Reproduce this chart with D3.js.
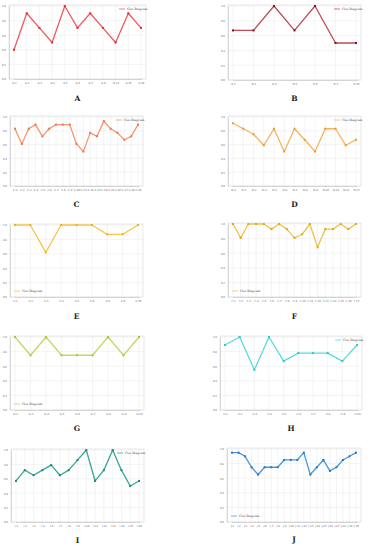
<!DOCTYPE html>
<html>
<head>
<meta charset="UTF-8">
<script src="https://d3js.org/d3.v7.min.js"></script>
<style>
  body { margin: 0; background: #fff; }
  .tick text { font-family: "DejaVu Sans", sans-serif; }
  .panel-label { font-family: "DejaVu Serif", serif; font-weight: bold; font-size: 7.5px; fill: #222; }
  .legend text { font-family: "DejaVu Serif", serif; font-size: 3px; fill: #444; }
</style>
</head>
<body>
<div id="chart"></div>
<script>
// data, one set per panel
var labelsA = ["A-1","A-2","A-3","A-4","A-5","A-6","A-7","A-8","A-13","A-15","A-16"];
var valuesA = [0.4,0.9,0.7,0.5,1.0,0.7,0.9,0.7,0.5,0.9,0.7];

var labelsB = ["B-1","B-2","B-4","B-5","B-6","B-7","B-10"];
var valuesB = [0.67,0.67,1.0,0.67,1.0,0.5,0.5];

var labelsC = ["C-1","C-2","C-3","C-4","C-5","C-6","C-7","C-8","C-9","C-10","C-11","C-12","C-13","C-14","C-15","C-16","C-17","C-18","C-19"];
var valuesC = [0.83,0.61,0.83,0.89,0.72,0.83,0.89,0.89,0.89,0.61,0.5,0.77,0.72,0.94,0.83,0.77,0.67,0.72,0.89];

var labelsD = ["D-1","D-2","D-3","D-4","D-5","D-6","D-7","D-8","D-9","D-10","D-11","D-12","D-13"];
var valuesD = [0.91,0.83,0.75,0.59,0.83,0.5,0.83,0.67,0.5,0.83,0.83,0.59,0.67];

var labelsE = ["E-1","E-2","E-3","E-4","E-5","E-6","E-8","E-9","E-10"];
var valuesE = [1.0,1.0,0.62,1.0,1.0,1.0,0.87,0.87,1.0];

var labelsF = ["F-1","F-2","F-3","F-4","F-5","F-6","F-7","F-8","F-9","F-10","F-11","F-12","F-13","F-14","F-15","F-16","F-17"];
var valuesF = [1.0,0.81,1.0,1.0,1.0,0.93,1.0,0.93,0.81,0.86,1.0,0.68,0.93,0.93,1.0,0.93,1.0];

var labelsG = ["G-1","G-3","G-4","G-5","G-6","G-7","G-8","G-9","G-10"];
var valuesG = [1.0,0.75,1.0,0.75,0.75,0.75,1.0,0.75,1.0];

var labelsH = ["H-1","H-2","H-3","H-4","H-5","H-6","H-7","H-8","H-9","H-10"];
var valuesH = [0.89,1.0,0.55,1.0,0.67,0.78,0.78,0.78,0.67,0.89];

var labelsI = ["I-1","I-2","I-3","I-4","I-5","I-7","I-8","I-9","I-10","I-11","I-12","I-13","I-14","I-15","I-16"];
var valuesI = [0.57,0.72,0.65,0.72,0.79,0.65,0.72,0.86,1.0,0.57,0.72,1.0,0.72,0.5,0.57];

var labelsJ = ["J-1","J-2","J-3","J-4","J-5","J-6","J-7","J-8","J-9","J-10","J-11","J-12","J-13","J-14","J-15","J-16","J-17","J-18","J-19","J-20"];
var valuesJ = [0.95,0.95,0.9,0.75,0.65,0.75,0.75,0.75,0.85,0.85,0.85,0.95,0.65,0.75,0.85,0.7,0.75,0.85,0.9,0.95];

var yTicks = [0, 0.2, 0.4, 0.6, 0.8, 1.0];
var legendText = "Clet Diagram";

// layout of each panel (plot box + caption position)
var panels = [
  {name:"A", labels:labelsA, values:valuesA, color:"#ee5a60", dot:"#d92e3a", x0:9,   x1:146, y0:5,   y1:79,  cy:101, leg:"tr"},
  {name:"B", labels:labelsB, values:valuesB, color:"#c04a58", dot:"#7a1424", x0:228, x1:361, y0:5,   y1:80,  cy:101, leg:"tr"},
  {name:"C", labels:labelsC, values:valuesC, color:"#f59872", dot:"#ef7a4d", x0:10,  x1:143, y0:116, y1:186, cy:207, leg:"tr"},
  {name:"D", labels:labelsD, values:valuesD, color:"#f7b35e", dot:"#f09a35", x0:228, x1:361, y0:116, y1:186, cy:207, leg:"tr"},
  {name:"E", labels:labelsE, values:valuesE, color:"#f7c54e", dot:"#f0b020", x0:10,  x1:143, y0:224, y1:297, cy:319, leg:"bl"},
  {name:"F", labels:labelsF, values:valuesF, color:"#ecc44c", dot:"#dcaa20", x0:228, x1:361, y0:223, y1:297, cy:319, leg:"bl"},
  {name:"G", labels:labelsG, values:valuesG, color:"#c0da66", dot:"#a8c640", x0:10,  x1:144, y0:336, y1:410, cy:431, leg:"bl"},
  {name:"H", labels:labelsH, values:valuesH, color:"#5cdada", dot:"#30c8c8", x0:220, x1:362, y0:336, y1:410, cy:431, leg:"tr"},
  {name:"I", labels:labelsI, values:valuesI, color:"#35a597", dot:"#1e8a7c", x0:11,  x1:144, y0:449, y1:522, cy:543, leg:"tr"},
  {name:"J", labels:labelsJ, values:valuesJ, color:"#4a98dc", dot:"#2478c4", x0:227, x1:361, y0:448, y1:522, cy:542, leg:"bl"}
];

var svg = d3.select("#chart").append("svg")
  .attr("width", 369)
  .attr("height", 550);

panels.forEach(function(p) {
  var g = svg.append("g");
  var data = p.labels.map(function(l, i) { return {label: l, value: p.values[i]}; });

  var x = d3.scalePoint()
    .domain(p.labels)
    .range([p.x0 + 5, p.x1 - 5]);
  var y = d3.scaleLinear()
    .domain([0, 1])
    .range([p.y1, p.y0 + 1]);

  // grid
  g.append("g").selectAll("line.gx")
    .data(p.labels).enter().append("line")
      .attr("x1", function(d) { return x(d); })
      .attr("x2", function(d) { return x(d); })
      .attr("y1", p.y0).attr("y2", p.y1)
      .attr("stroke", "#e2e2e2").attr("stroke-width", 0.4);
  g.append("g").selectAll("line.gy")
    .data(yTicks).enter().append("line")
      .attr("x1", p.x0).attr("x2", p.x1)
      .attr("y1", function(d) { return y(d); })
      .attr("y2", function(d) { return y(d); })
      .attr("stroke", "#e2e2e2").attr("stroke-width", 0.4);

  // frame
  g.append("rect")
    .attr("x", p.x0).attr("y", p.y0)
    .attr("width", p.x1 - p.x0).attr("height", p.y1 - p.y0)
    .attr("fill", "none").attr("stroke", "#d8d8d8").attr("stroke-width", 0.6);

  // axes
  var ax = g.append("g")
    .attr("transform", "translate(0," + p.y1 + ")")
    .call(d3.axisBottom(x).tickSize(1).tickPadding(2));
  ax.select(".domain").attr("stroke", "#bbb").attr("stroke-width", 0.5);
  ax.selectAll(".tick line").attr("stroke", "#bbb").attr("stroke-width", 0.4);
  ax.selectAll("text").attr("font-size", 2.6).attr("fill", "#666");

  var ay = g.append("g")
    .attr("transform", "translate(" + p.x0 + ",0)")
    .call(d3.axisLeft(y).tickValues(yTicks).tickFormat(d3.format(".1f")).tickSize(0).tickPadding(3));
  ay.select(".domain").attr("stroke", "#bbb").attr("stroke-width", 0.5);
  ay.selectAll("text").attr("font-size", 2.6).attr("fill", "#666");

  // line + markers
  g.append("path")
    .datum(data)
    .attr("fill", "none")
    .attr("stroke", p.color)
    .attr("stroke-width", 1.3)
    .attr("stroke-linejoin", "round")
    .attr("d", d3.line()
      .x(function(d) { return x(d.label); })
      .y(function(d) { return y(d.value); }));

  g.selectAll("rect.pt")
    .data(data).enter().append("rect")
      .attr("x", function(d) { return x(d.label) - 1; })
      .attr("y", function(d) { return y(d.value) - 1; })
      .attr("width", 2).attr("height", 2)
      .attr("fill", p.dot);

  // legend
  var lx, ly;
  if (p.leg === "tr") { lx = p.x1 - 27; ly = p.y0 + 4; }
  else { lx = p.x0 + 4; ly = p.y1 - 6; }
  var lg = g.append("g").attr("class", "legend");
  lg.append("line")
    .attr("x1", lx).attr("x2", lx + 6)
    .attr("y1", ly).attr("y2", ly)
    .attr("stroke", p.color).attr("stroke-width", 0.8);
  lg.append("text")
    .attr("x", lx + 8).attr("y", ly + 1)
    .text(legendText);

  // caption
  g.append("text")
    .attr("class", "panel-label")
    .attr("x", (p.x0 + p.x1) / 2)
    .attr("y", p.cy)
    .attr("text-anchor", "middle")
    .text(p.name);
});
</script>
</body>
</html>
